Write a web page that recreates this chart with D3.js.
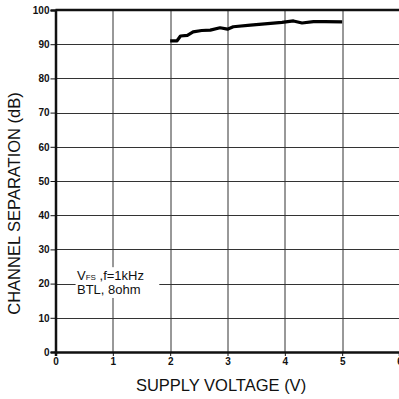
<!DOCTYPE html>
<meta charset="utf-8">
<script src="https://d3js.org/d3.v7.min.js"></script>
<style>
  body { margin: 0; background: #fff; }
  text { font-family: Arial, "Liberation Sans", sans-serif; }
</style>
<div id="my_dataviz"></div>
<script>
  // curve
  var voltage = [2.0, 2.12, 2.18, 2.3, 2.4, 2.55, 2.7, 2.87, 3.0, 3.1, 3.4, 3.7, 3.95, 4.15, 4.3, 4.5, 4.7, 5.0];
  var separation = [91.0, 91.0, 92.4, 92.6, 93.6, 94.0, 94.1, 94.8, 94.4, 95.1, 95.6, 96.0, 96.4, 96.8, 96.2, 96.6, 96.6, 96.5];
  var xTicks = [0, 1, 2, 3, 4, 5, 6];
  var yTicks = [0, 10, 20, 30, 40, 50, 60, 70, 80, 90, 100];

  var data = voltage.map(function (v, i) { return { x: v, y: separation[i] }; });

  var margin = { top: 10, right: -0.5, bottom: 47, left: 55.5 },
    width = 399 - margin.left - margin.right,
    height = 399 - margin.top - margin.bottom;

  var svg = d3.select("#my_dataviz")
    .append("svg")
    .attr("width", 399)
    .attr("height", 399)
    .append("g")
    .attr("transform", "translate(" + margin.left + "," + margin.top + ")");

  var x = d3.scaleLinear().domain([0, 6]).range([0, width]);
  var y = d3.scaleLinear().domain([0, 100]).range([height, 0]);

  // grid
  svg.append("g").selectAll("line").data(yTicks.slice(1, -1)).enter().append("line")
    .attr("x1", 0).attr("x2", width)
    .attr("y1", function (d) { return Math.round(y(d)) + 0.5; })
    .attr("y2", function (d) { return Math.round(y(d)) + 0.5; })
    .attr("stroke", "#333").attr("stroke-width", 1);
  svg.append("g").selectAll("line").data(xTicks.slice(1)).enter().append("line")
    .attr("y1", 0).attr("y2", height)
    .attr("x1", function (d) { return Math.round(x(d)) + 0.5; })
    .attr("x2", function (d) { return Math.round(x(d)) + 0.5; })
    .attr("stroke", "#333").attr("stroke-width", 1);

  // label box hides grid behind text
  svg.append("rect")
    .attr("x", x(0.35)).attr("y", y(24.8))
    .attr("width", x(1.81) - x(0.35)).attr("height", y(15.8) - y(24.8))
    .attr("fill", "#fff");

  var note = svg.append("text").attr("x", x(0.375)).attr("y", y(21.05))
    .attr("font-size", 13).attr("fill", "#111");
  note.append("tspan").text("V");
  note.append("tspan").attr("font-size", 8).text("FS");
  note.append("tspan").text(" ,f=1kHz");
  svg.append("text").attr("x", x(0.375)).attr("y", y(16.95))
    .attr("font-size", 13).attr("fill", "#111").text("BTL, 8ohm");

  // frame
  svg.append("line").attr("x1", 0).attr("x2", width).attr("y1", 0).attr("y2", 0)
    .attr("stroke", "#111").attr("stroke-width", 2.5);

  // axes
  var yAxis = svg.append("g")
    .call(d3.axisLeft(y).tickValues(yTicks).tickSize(5).tickPadding(1));
  var xAxis = svg.append("g")
    .attr("transform", "translate(0," + height + ")")
    .call(d3.axisBottom(x).tickValues(xTicks).tickFormat(d3.format("d")).tickSize(4).tickPadding(2));
  [xAxis, yAxis].forEach(function (a) {
    a.select(".domain").attr("stroke", "#111").attr("stroke-width", 2.5);
    a.selectAll(".tick line").attr("stroke", "#111");
    a.selectAll("text").attr("font-size", 10).attr("font-weight", "bold")
      .attr("fill", "#111").attr("font-family", "Arial, 'Liberation Sans', sans-serif");
  });

  // curve
  svg.append("path")
    .datum(data)
    .attr("fill", "none")
    .attr("stroke", "#000")
    .attr("stroke-width", 3.2)
    .attr("stroke-linejoin", "round")
    .attr("d", d3.line()
      .x(function (d) { return x(d.x); })
      .y(function (d) { return y(d.y); }));

  // axis titles
  svg.append("text")
    .attr("transform", "translate(" + (20 - margin.left) + "," + (203.5 - margin.top) + ") rotate(-90)")
    .attr("text-anchor", "middle").attr("font-size", 16.5).attr("fill", "#111")
    .text("CHANNEL SEPARATION (dB)");
  svg.append("text")
    .attr("x", 221 - margin.left).attr("y", 390.5 - margin.top)
    .attr("text-anchor", "middle").attr("font-size", 16.5).attr("fill", "#111")
    .text("SUPPLY VOLTAGE (V)");
</script>
